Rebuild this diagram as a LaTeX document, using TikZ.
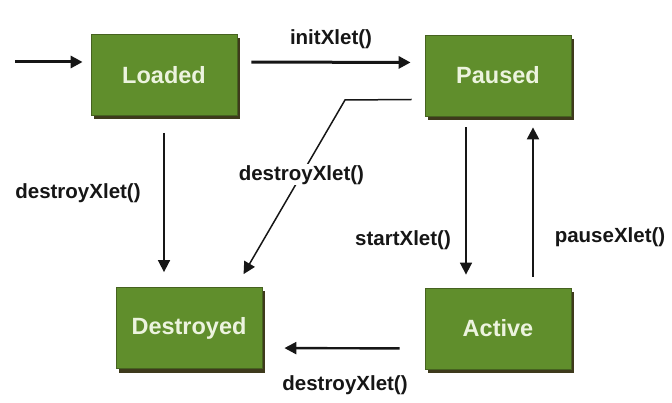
\documentclass[tikz,border=0pt]{standalone}
\usepackage{fontspec}
\setmainfont{Liberation Sans}
\usetikzlibrary{arrows.meta,shadows}
\definecolor{boxgreen}{RGB}{96,142,44}
\definecolor{boxedge}{RGB}{70,98,32}
\definecolor{boxshade}{RGB}{62,58,28}
\definecolor{boxtext}{RGB}{236,243,222}
\definecolor{ink}{RGB}{22,22,22}
\begin{document}
\begin{tikzpicture}[x=1pt,y=-1pt,
  state/.style={draw=boxedge, line width=0.8pt, fill=boxgreen,
    minimum width=146pt, minimum height=81pt, inner sep=0pt,
    font=\fontsize{23.5}{25}\selectfont\bfseries, text=boxtext,
    drop shadow={shadow xshift=3pt, shadow yshift=-4pt, fill=boxshade, opacity=1}},
  lbl/.style={font=\fontsize{20.5}{22}\selectfont\bfseries, text=ink, inner sep=1pt},
  arr/.style={draw=ink, -{Triangle[length=12pt,width=12pt]}},
  thickarr/.style={arr, line width=3pt},
  thinarr/.style={arr, line width=1.7pt}]
  \useasboundingbox (0,0) rectangle (672,403);

  % states
  \node[state] (loaded)    at (164,75)    {Loaded};
  \node[state] (paused)    at (498,75.5)  {Paused};
  \node[state] (active)    at (498,328.5) {Active};
  \node[state] (destroyed) at (189,328)   {Destroyed};

  % entry transition
  \coordinate (entry) at (15,62);
  \draw[thickarr, shorten >=8pt] (entry) -- (entry -| loaded.west);

  % Loaded -> Paused
  \draw[thickarr, shorten <=14pt, shorten >=14pt]
    ([yshift=13pt]loaded.east) -- node[lbl, above=11pt] {initXlet()} ([yshift=13pt]paused.west);

  % Loaded -> Destroyed
  \draw[thinarr, shorten <=17pt, shorten >=15pt]
    (loaded.south) -- (loaded.south |- destroyed.north);
  \node[lbl] (lblLD) at (78,193) {destroyXlet()};

  % Paused -> Destroyed
  \coordinate (bend) at (345,100);
  \draw[thinarr, line width=1.5pt, shorten >=15pt]
    ([yshift=-24pt,xshift=-13pt]paused.west) -- (bend)
    -- node[lbl, fill=white, pos=0.4] {destroyXlet()} ([xshift=47pt]destroyed.north);

  % Paused -> Active
  \draw[thinarr, shorten <=11pt, shorten >=13pt]
    ([xshift=-32pt]paused.south) -- ([xshift=-32pt]active.north);
  \node[lbl] (lblPA) at (403,240) {startXlet()};

  % Active -> Paused
  \draw[thinarr, line width=2.2pt, shorten <=11pt, shorten >=11pt]
    ([xshift=35pt]active.north) -- ([xshift=35pt]paused.south);
  \node[lbl] (lblAP) at (610,237) {pauseXlet()};

  % Active -> Destroyed
  \draw[thickarr, line width=2.4pt, shorten <=25pt, shorten >=22pt]
    ([yshift=-20pt]active.west) -- ([yshift=-20pt]destroyed.east);
  \node[lbl] (lblAD) at (345,385) {destroyXlet()};
\end{tikzpicture}
\end{document}
